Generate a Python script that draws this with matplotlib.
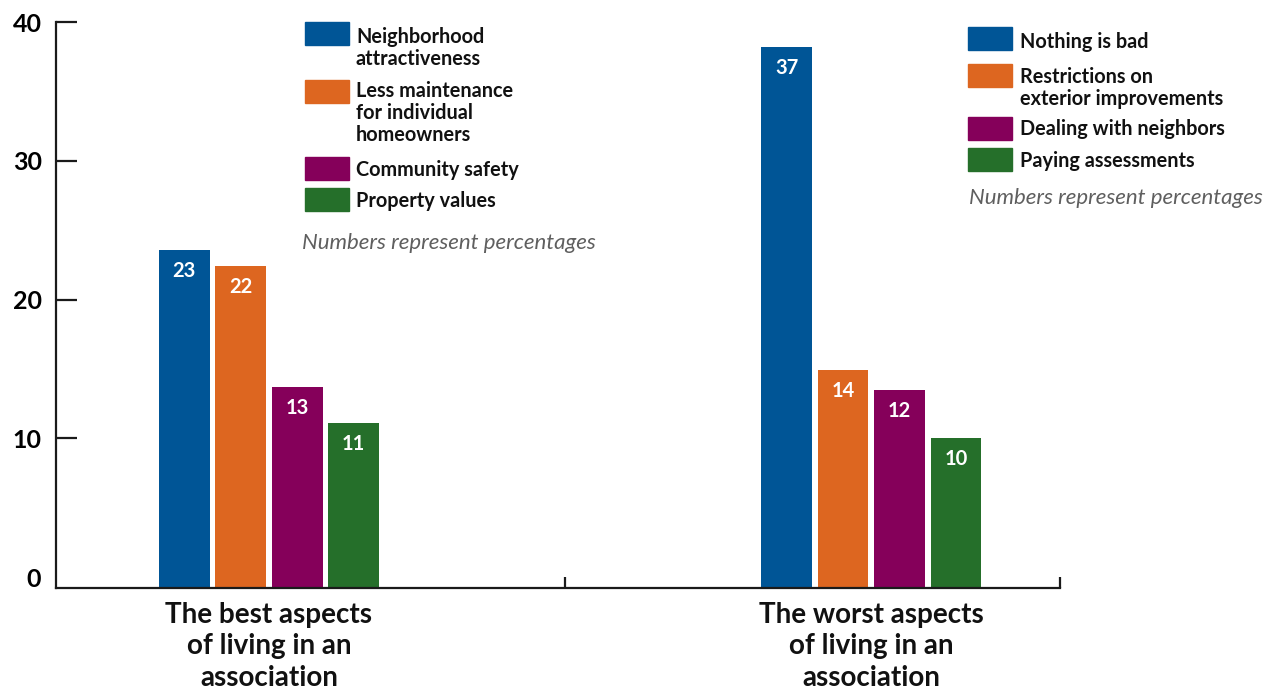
import matplotlib
matplotlib.use("Agg")
import matplotlib.pyplot as plt
from matplotlib.patches import Rectangle

# values as drawn (bar heights) and the printed labels
groups = ["The best aspects\nof living in an\nassociation",
          "The worst aspects\nof living in an\nassociation"]
best_values = [23.6, 22.4, 13.7, 11.1]
worst_values = [38.2, 14.9, 13.5, 10.0]
best_labels = ["23", "22", "13", "11"]
worst_labels = ["37", "14", "12", "10"]
best_names = ["Neighborhood\nattractiveness", "Less maintenance\nfor individual\nhomeowners",
              "Community safety", "Property values"]
worst_names = ["Nothing is bad", "Restrictions on\nexterior improvements",
               "Dealing with neighbors", "Paying assessments"]
colors = ["#005596", "#DD6620", "#85005A", "#256F2A"]
note = "Numbers represent percentages"

plt.rcParams["font.family"] = ["Lato", "DejaVu Sans"]

W, H = 1282, 691
fig = plt.figure(figsize=(W / 100, H / 100), dpi=100)
ax = fig.add_axes([56.3 / W, 1 - 588 / H, 1003.3 / W, (588 - 22.3) / H])

ymin = -0.79
ax.set_ylim(ymin, 40)
ax.set_xlim(0, 2)
centers = [0.424, 1.625]
pitch, width = 0.1126, 0.1007

for gc, vals, labs in [(centers[0], best_values, best_labels),
                       (centers[1], worst_values, worst_labels)]:
    for i, (v, lab) in enumerate(zip(vals, labs)):
        x = gc + (i - 1.5) * pitch
        ax.bar(x, v - ymin, bottom=ymin, width=width, color=colors[i])
        ax.text(x, v - 1.5, lab, ha="center", va="center", color="white",
                fontsize=14.5, fontweight="bold")

for s in ["top", "right"]:
    ax.spines[s].set_visible(False)
for s in ["left", "bottom"]:
    ax.spines[s].set_linewidth(1.6)
    ax.spines[s].set_color("#1a1a1a")

ax.set_yticks([10, 20, 30, 40])
ax.set_yticklabels(["10", "20", "30", "40"], fontsize=18, fontweight="bold")
ax.tick_params(axis="y", direction="in", length=15, width=1.6, pad=10.5, color="#1a1a1a")
for lab in ax.get_yticklabels():
    lab.set_va("center_baseline")
ax.text(-0.015, 0, "0", transform=ax.get_yaxis_transform(), ha="right", va="center_baseline",
        fontsize=18, fontweight="bold")

ax.set_xticks([1.014, 2.0])
ax.set_xticklabels([])
ax.tick_params(axis="x", direction="in", length=8, width=1.6, color="#1a1a1a")

for gc, g in zip(centers, groups):
    ax.text(gc, -0.024, g, transform=ax.get_xaxis_transform(), ha="center", va="top",
            fontsize=20, fontweight="bold", linespacing=1.27, color="#111111")


def legend_entry(x0, x1, ytop, ybot, text_x, text_y, text, c):
    fig.add_artist(Rectangle((x0 / W, 1 - ybot / H), (x1 - x0) / W, (ybot - ytop) / H,
                             color=c, transform=fig.transFigure))
    fig.text(text_x / W, 1 - text_y / H, text, ha="left", va="top", fontsize=14.3,
             fontweight="bold", linespacing=1.12, color="#111111")


left_boxes = [(22, 45), (80, 103), (157, 180), (188, 211)]
left_text_top = [27, 81, 160, 191]
for (yt, yb), ty, name, c in zip(left_boxes, left_text_top, best_names, colors):
    legend_entry(305, 349, yt, yb, 356, ty, name, c)
fig.text(302 / W, 1 - 243 / H, note, ha="left", va="center", fontsize=16,
         fontstyle="italic", fontweight="normal", color="#5f5f5f")

right_boxes = [(27, 50), (64, 87), (117, 140), (148, 171)]
right_text_top = [32, 67, 119, 151]
for (yt, yb), ty, name, c in zip(right_boxes, right_text_top, worst_names, colors):
    legend_entry(968, 1012, yt, yb, 1020, ty, name, c)
fig.text(969 / W, 1 - 198 / H, note, ha="left", va="center", fontsize=16,
         fontstyle="italic", fontweight="normal", color="#5f5f5f")

fig.savefig("out.png", dpi=100)
